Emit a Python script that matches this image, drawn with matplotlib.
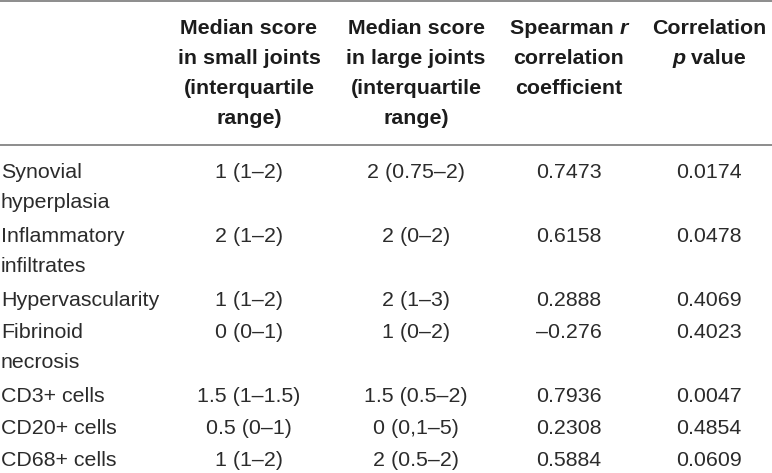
import matplotlib
matplotlib.use("Agg")
from matplotlib import pyplot as plt

W, H = 772, 473
DPI = 100

row_labels = [["Synovial", "hyperplasia"],
              ["Inflammatory", "infiltrates"],
              ["Hypervascularity"],
              ["Fibrinoid", "necrosis"],
              ["CD3+ cells"],
              ["CD20+ cells"],
              ["CD68+ cells"]]
small_joints = ["1 (1–2)", "2 (1–2)", "1 (1–2)", "0 (0–1)", "1.5 (1–1.5)", "0.5 (0–1)", "1 (1–2)"]
large_joints = ["2 (0.75–2)", "2 (0–2)", "2 (1–3)", "1 (0–2)", "1.5 (0.5–2)", "0 (0,1–5)", "2 (0.5–2)"]
spearman_r = ["0.7473", "0.6158", "0.2888", "–0.276", "0.7936", "0.2308", "0.5884"]
p_values = ["0.0174", "0.0478", "0.4069", "0.4023", "0.0047", "0.4854", "0.0609"]

# header lines, each line a list of (text, italic) pieces
headers = [
    [[("Median score", False)], [("in small joints", False)], [("(interquartile", False)], [("range)", False)]],
    [[("Median score", False)], [("in large joints", False)], [("(interquartile", False)], [("range)", False)]],
    [[("Spearman ", False), ("r", True)], [("correlation", False)], [("coefficient", False)]],
    [[("Correlation", False)], [("p", True), (" value", False)]],
]

col_x = [249, 416, 569, 709]
head_y0, head_dy = 29, 30
body_y0, line_dy = 173, 31.9
sep_y = 145

font = "Liberation Sans"
body_size = 15.4
head_size = 15.4
body_color = "#2b2b2b"
head_color = "#1c1c1c"
line_color = "#8c8c8c"

fig = plt.figure(figsize=(W / DPI, H / DPI), dpi=DPI)
renderer = fig.canvas.get_renderer()


def fx(x):
    return x / W


def fy(y):
    return 1 - y / H


# rules
for y in [1, sep_y]:
    fig.add_artist(plt.Line2D([0, 1], [fy(y), fy(y)], color=line_color, linewidth=1.4))

# header
for cx, lines in zip(col_x, headers):
    for i, pieces in enumerate(lines):
        y = fy(head_y0 + i * head_dy)
        texts = []
        for s, it in pieces:
            t = fig.text(0, y, s, fontsize=head_size, fontweight="bold", family=font,
                         style="italic" if it else "normal", color=head_color,
                         ha="left", va="center")
            texts.append(t)
        widths = [t.get_window_extent(renderer).width for t in texts]
        x = cx - sum(widths) / 2
        for t, w in zip(texts, widths):
            t.set_x(fx(x))
            x += w

# body
line = 0
for i, labels in enumerate(row_labels):
    y0 = body_y0 + line * line_dy
    for j, lab in enumerate(labels):
        fig.text(fx(1), fy(y0 + j * 30), lab, fontsize=body_size, family=font,
                 color=body_color, ha="left", va="center")
    for cx, col in zip(col_x, [small_joints, large_joints, spearman_r, p_values]):
        fig.text(fx(cx), fy(y0), col[i], fontsize=body_size, family=font,
                 color=body_color, ha="center", va="center")
    line += len(labels)

fig.savefig("out.png", dpi=DPI)
